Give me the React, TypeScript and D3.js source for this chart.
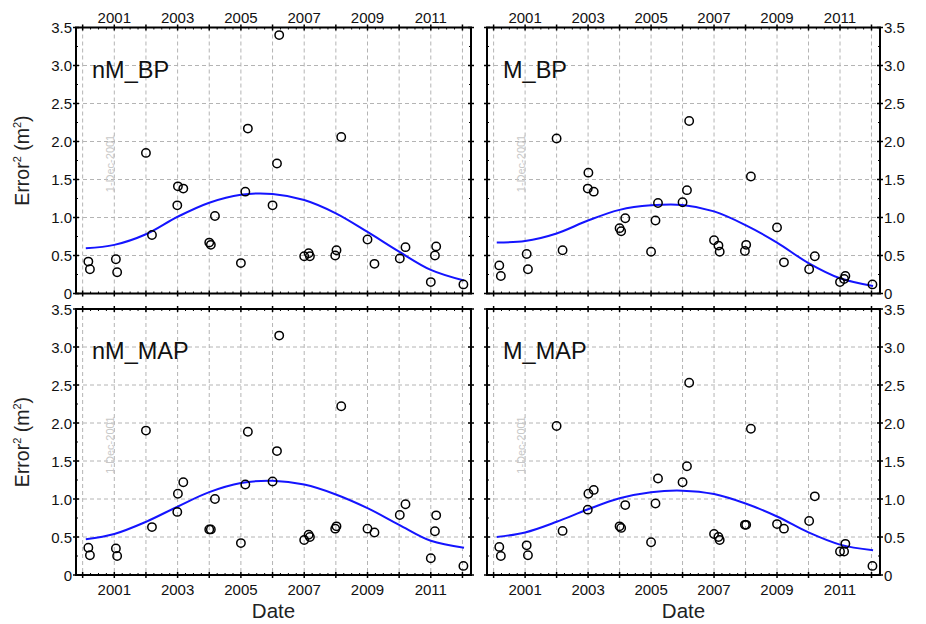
import React from "react";
import * as d3 from "d3";

const pointDates = [2000.18, 2000.23, 2001.05, 2001.09, 2002.0, 2002.19, 2002.99, 2003.01, 2003.18, 2004.0, 2004.05, 2004.18, 2005.0, 2005.14, 2005.22, 2006.0, 2006.14, 2006.21, 2007.0, 2007.14, 2007.18, 2007.98, 2008.02, 2008.17, 2009.0, 2009.22, 2010.02, 2010.2, 2011.0, 2011.13, 2011.17, 2012.03];

const nMBPPoints = [0.42, 0.32, 0.45, 0.28, 1.85, 0.77, 1.16, 1.41, 1.38, 0.67, 0.64, 1.02, 0.40, 1.34, 2.17, 1.16, 1.71, 3.40, 0.49, 0.53, 0.49, 0.50, 0.57, 2.06, 0.71, 0.39, 0.46, 0.61, 0.15, 0.50, 0.62, 0.12];
const MBPPoints = [0.37, 0.23, 0.52, 0.32, 2.04, 0.57, 1.38, 1.59, 1.34, 0.86, 0.82, 0.99, 0.55, 0.96, 1.19, 1.20, 1.36, 2.27, 0.70, 0.63, 0.55, 0.56, 0.64, 1.54, 0.87, 0.41, 0.32, 0.49, 0.15, 0.19, 0.23, 0.12];
const nMMAPPoints = [0.36, 0.26, 0.35, 0.25, 1.90, 0.63, 0.83, 1.07, 1.22, 0.60, 0.60, 1.00, 0.42, 1.19, 1.885, 1.23, 1.63, 3.15, 0.46, 0.53, 0.50, 0.61, 0.64, 2.22, 0.61, 0.56, 0.79, 0.93, 0.22, 0.575, 0.785, 0.12];
const MMAPPoints = [0.37, 0.25, 0.39, 0.26, 1.96, 0.58, 0.86, 1.07, 1.12, 0.64, 0.62, 0.92, 0.43, 0.94, 1.27, 1.22, 1.43, 2.53, 0.54, 0.50, 0.46, 0.66, 0.66, 1.925, 0.67, 0.61, 0.71, 1.035, 0.31, 0.31, 0.41, 0.12];

const curveDates = [2000.1, 2001, 2002, 2003, 2004, 2005, 2006, 2007, 2008, 2009, 2010, 2011, 2012.05];
const nMBPCurve = [0.595, 0.64, 0.78, 1.01, 1.195, 1.30, 1.31, 1.23, 1.055, 0.81, 0.55, 0.31, 0.17];
const MBPCurve = [0.67, 0.69, 0.79, 0.96, 1.10, 1.16, 1.165, 1.08, 0.90, 0.67, 0.40, 0.20, 0.10];
const nMMAPCurve = [0.47, 0.54, 0.70, 0.90, 1.09, 1.21, 1.24, 1.19, 1.06, 0.88, 0.66, 0.45, 0.36];
const MMAPCurve = [0.50, 0.56, 0.70, 0.865, 1.01, 1.09, 1.11, 1.065, 0.94, 0.77, 0.56, 0.40, 0.325];

const yearTicks = [2000, 2001, 2002, 2003, 2004, 2005, 2006, 2007, 2008, 2009, 2010, 2011, 2012];
const yearLabels = [2001, 2003, 2005, 2007, 2009, 2011];
const yTicks = [0, 0.5, 1.0, 1.5, 2.0, 2.5, 3.0, 3.5];
const yTickLabels = ["0", "0.5", "1.0", "1.5", "2.0", "2.5", "3.0", "3.5"];

const panelNames = ["nM_BP", "M_BP", "nM_MAP", "M_MAP"];
const panelPoints = [nMBPPoints, MBPPoints, nMMAPPoints, MMAPPoints];
const panelCurves = [nMBPCurve, MBPCurve, nMMAPCurve, MMAPCurve];

const FONT = "'Liberation Sans', Arial, sans-serif";
const W = 926;
const H = 624;
const colX = [[76, 471], [487, 880]];
const rowY = [[27.5, 293.5], [309, 575]];

function Panel({ idx }: { idx: number }) {
  const col = idx % 2;
  const row = Math.floor(idx / 2);
  const [x0, x1] = colX[col];
  const [y0, y1] = rowY[row];
  const x = d3.scaleLinear().domain([1999.79, 2012.27]).range([x0, x1]);
  const y = d3.scaleLinear().domain([0, 3.5]).range([y1, y0]);
  const line = d3
    .line<number>()
    .x((_, i) => x(curveDates[i]))
    .y((v) => y(v))
    .curve(d3.curveCatmullRom.alpha(0.5));
  const minorX: number[] = [];
  for (let yr = 2000; yr < 2012.27; yr += 0.25) {
    if (Math.abs(yr - Math.round(yr)) > 0.01) minorX.push(yr);
  }
  const minorY = d3.range(0.25, 3.5, 0.5);
  const pts = panelPoints[idx];
  const grid = "#b4b4b4";
  return (
    <g>
      {yearTicks.map((t) => (
        <line key={"gx" + t} x1={x(t)} x2={x(t)} y1={y0} y2={y1} stroke={grid} strokeWidth={1} strokeDasharray="4,3" />
      ))}
      {yTicks.slice(1, -1).map((t) => (
        <line key={"gy" + t} x1={x0} x2={x1} y1={y(t)} y2={y(t)} stroke={grid} strokeWidth={1} strokeDasharray="4,3" />
      ))}
      <text x={x0 + 16} y={y0 + 50} fontFamily={FONT} fontSize={23.5} fill="#111">
        {panelNames[idx]}
      </text>
      <text
        transform={`translate(${x0 + 38},${y0 + 136}) rotate(-90)`}
        textAnchor="middle"
        fontFamily={FONT}
        fontSize={11}
        fill="#c8c8c8"
      >
        1-Dec-2001
      </text>
      <path d={line(panelCurves[idx]) || ""} fill="none" stroke="#1414ff" strokeWidth={2} />
      {pts.map((v, i) => (
        <circle key={"p" + i} cx={x(pointDates[i])} cy={y(v)} r={4.2} fill="none" stroke="#000" strokeWidth={1.5} />
      ))}
      <rect x={x0} y={y0} width={x1 - x0} height={y1 - y0} fill="none" stroke="#000" strokeWidth={2} />
      {yearTicks.map((t) => (
        <g key={"tx" + t}>
          <line x1={x(t)} x2={x(t)} y1={y0 - 3} y2={y0 + 3} stroke="#000" strokeWidth={1.5} />
          <line x1={x(t)} x2={x(t)} y1={y1 - 3} y2={y1 + 3} stroke="#000" strokeWidth={1.5} />
        </g>
      ))}
      {minorX.map((t) => (
        <g key={"mx" + t}>
          <line x1={x(t)} x2={x(t)} y1={y0} y2={y0 + 2} stroke="#000" strokeWidth={1} />
          <line x1={x(t)} x2={x(t)} y1={y1 - 2} y2={y1} stroke="#000" strokeWidth={1} />
        </g>
      ))}
      {yTicks.map((t) => (
        <g key={"ty" + t}>
          <line x1={x0 - 3} x2={x0 + 3} y1={y(t)} y2={y(t)} stroke="#000" strokeWidth={1.5} />
          <line x1={x1 - 3} x2={x1 + 3} y1={y(t)} y2={y(t)} stroke="#000" strokeWidth={1.5} />
        </g>
      ))}
      {minorY.map((t) => (
        <g key={"my" + t}>
          <line x1={x0} x2={x0 + 2} y1={y(t)} y2={y(t)} stroke="#000" strokeWidth={1} />
          <line x1={x1 - 2} x2={x1} y1={y(t)} y2={y(t)} stroke="#000" strokeWidth={1} />
        </g>
      ))}
      {yTicks.map((t, i) => (
        <text
          key={"yl" + t}
          x={col === 0 ? x0 - 4 : x1 + 4}
          y={y(t) + 5.5}
          textAnchor={col === 0 ? "end" : "start"}
          fontFamily={FONT}
          fontSize={15}
          fill="#111"
        >
          {yTickLabels[i]}
        </text>
      ))}
      {yearLabels.map((t) => (
        <text
          key={"xl" + t}
          x={x(t)}
          y={row === 0 ? y0 - 5 : y1 + 20}
          textAnchor="middle"
          fontFamily={FONT}
          fontSize={15}
          fill="#111"
        >
          {t}
        </text>
      ))}
      {row === 1 && (
        <text x={(x0 + x1) / 2} y={y1 + 43} textAnchor="middle" fontFamily={FONT} fontSize={20.5} fill="#222">
          Date
        </text>
      )}
      {col === 0 && (
        <text
          transform={`translate(${x0 - 47},${(y0 + y1) / 2}) rotate(-90)`}
          textAnchor="middle"
          fontFamily={FONT}
          fontSize={19.5}
          fill="#222"
        >
          Error
          <tspan fontSize={11} dy={-8}>2</tspan>
          <tspan dy={8}> (m</tspan>
          <tspan fontSize={11} dy={-8}>2</tspan>
          <tspan dy={8}>)</tspan>
        </text>
      )}
    </g>
  );
}

export default function App() {
  return (
    <svg width={W} height={H} style={{ display: "block", position: "absolute", left: 0, top: 0, background: "#fff" }}>
      <rect x={0} y={0} width={W} height={H} fill="#fff" />
      {[0, 1, 2, 3].map((i) => (
        <Panel key={i} idx={i} />
      ))}
    </svg>
  );
}
